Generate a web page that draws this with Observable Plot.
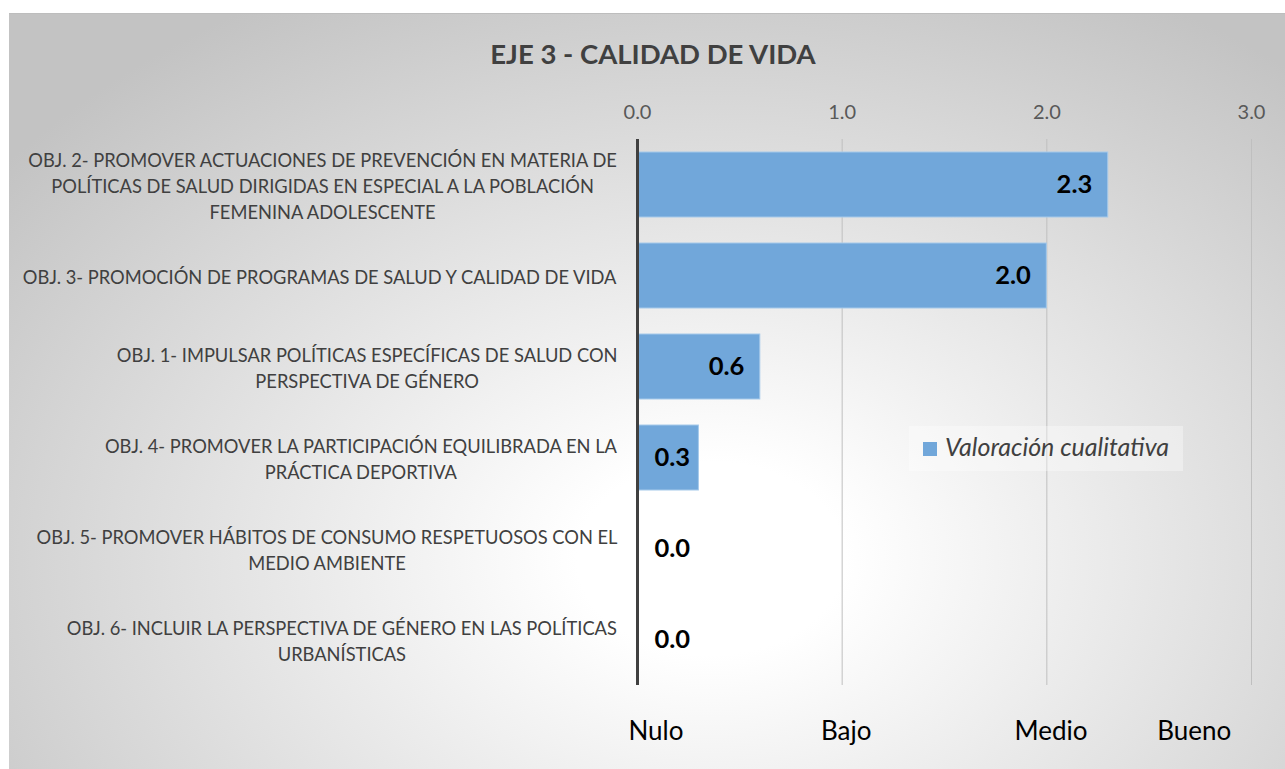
<!DOCTYPE html>
<html><head><meta charset="utf-8">
<script src="https://cdn.jsdelivr.net/npm/d3@7"></script>
<script src="https://cdn.jsdelivr.net/npm/@observablehq/plot@0.6"></script>
<style>
body{margin:0;background:#fff;font-family:Lato,sans-serif;}
#chart{position:absolute;left:9px;top:13px;width:1276px;height:756px;overflow:hidden;
 background:radial-gradient(ellipse 70% 85% at 55% 72%, #ffffff 0%, #ffffff 15%, #c3c3c3 100%);
 border-top:1px solid #bdbdbd;}
#title{position:absolute;left:0;width:1288px;top:23px;text-align:center;font:bold 27.5px Lato;color:#404040;}
#plot{position:absolute;left:0;top:0;}
#legend{position:absolute;left:900px;top:412px;width:274px;height:45px;background:rgba(255,255,255,0.35);}
#legend .sw{position:absolute;left:14px;top:16px;width:14px;height:14px;background:#71a7da;}
#legend .lb{position:absolute;left:36px;top:5px;font:italic 25px Lato;color:#404040;white-space:nowrap;}
</style></head>
<body>
<div id="chart">
 <div id="plot"></div>
 <div id="title">EJE 3 - CALIDAD DE VIDA</div>
 <div id="legend"><div class="sw"></div><div class="lb">Valoración cualitativa</div></div>
</div>
<script>
const categories = [
 "OBJ. 2- PROMOVER ACTUACIONES DE PREVENCIÓN EN MATERIA DE\nPOLÍTICAS DE SALUD DIRIGIDAS EN ESPECIAL A LA POBLACIÓN\nFEMENINA ADOLESCENTE",
 "OBJ. 3- PROMOCIÓN DE PROGRAMAS DE SALUD Y CALIDAD DE VIDA",
 "OBJ. 1- IMPULSAR POLÍTICAS ESPECÍFICAS DE SALUD CON\nPERSPECTIVA DE GÉNERO",
 "OBJ. 4- PROMOVER LA PARTICIPACIÓN EQUILIBRADA EN LA\nPRÁCTICA DEPORTIVA",
 "OBJ. 5- PROMOVER HÁBITOS DE CONSUMO RESPETUOSOS CON EL\nMEDIO AMBIENTE",
 "OBJ. 6- INCLUIR LA PERSPECTIVA DE GÉNERO EN LAS POLÍTICAS\nURBANÍSTICAS"
];
const values = [2.3, 2.0, 0.6, 0.3, 0.0, 0.0];
const xTicks = [0, 1, 2, 3];
const levelLabels = ["Nulo", "Bajo", "Medio", "Bueno"];
const levelPos = [0.09, 1.02, 2.02, 2.72];

const data = categories.map((c, i) => ({cat: c, value: values[i]}));

const labelFont = 18.3;
const ctx = document.createElement("canvas").getContext("2d");
ctx.font = labelFont + "px Lato";
const blockWidth = c => d3.max(c.split("\n"), l => ctx.measureText(l).width);

const catMarks = categories.map(c => Plot.text([c], {
  x: [0], y: [c], text: [c],
  dx: -(20 + blockWidth(c) / 2),
  textAnchor: "middle", lineAnchor: "middle", lineHeight: 1.42,
  fontSize: labelFont, fontFamily: "Lato", fill: "#404040"
}));

const chart = Plot.plot({
  width: 1276, height: 756,
  marginLeft: 628, marginRight: 34, marginTop: 125, marginBottom: 85,
  style: {background: "transparent", fontFamily: "Lato", overflow: "visible"},
  x: {domain: [0, 3], axis: null},
  y: {domain: categories, axis: null, paddingInner: 0.286, paddingOuter: 0.143},
  marks: [
    Plot.gridX(xTicks.filter(d => d > 0), {stroke: "#bfbfbf", strokeOpacity: 1, strokeWidth: 1}),
    Plot.barX(data, {x: "value", y: "cat", fill: "#71a7da", stroke: "#a6c9ea", strokeWidth: 1}),
    Plot.ruleX([0], {stroke: "#404040", strokeWidth: 3}),
    Plot.axisX({anchor: "top", ticks: xTicks, tickFormat: d3.format(".1f"), tickSize: 0, tickPadding: 21,
      fontSize: 20, fill: "#595959", label: null}),
    Plot.text(data.filter(d => d.value >= 0.5), {x: "value", y: "cat", text: d => d3.format(".1f")(d.value),
      textAnchor: "end", dx: -16, fontSize: 25.5, fontWeight: "bold", fill: "#000"}),
    Plot.text(data.filter(d => d.value < 0.5), {x: () => 0, y: "cat", text: d => d3.format(".1f")(d.value),
      textAnchor: "start", dx: 17, fontSize: 25.5, fontWeight: "bold", fill: "#000"}),
    ...catMarks,
    Plot.text(levelLabels, {x: (d, i) => levelPos[i], frameAnchor: "bottom", dy: 54, fontSize: 26, fill: "#000"})
  ]
});
document.getElementById("plot").appendChild(chart);
</script>
</body></html>
